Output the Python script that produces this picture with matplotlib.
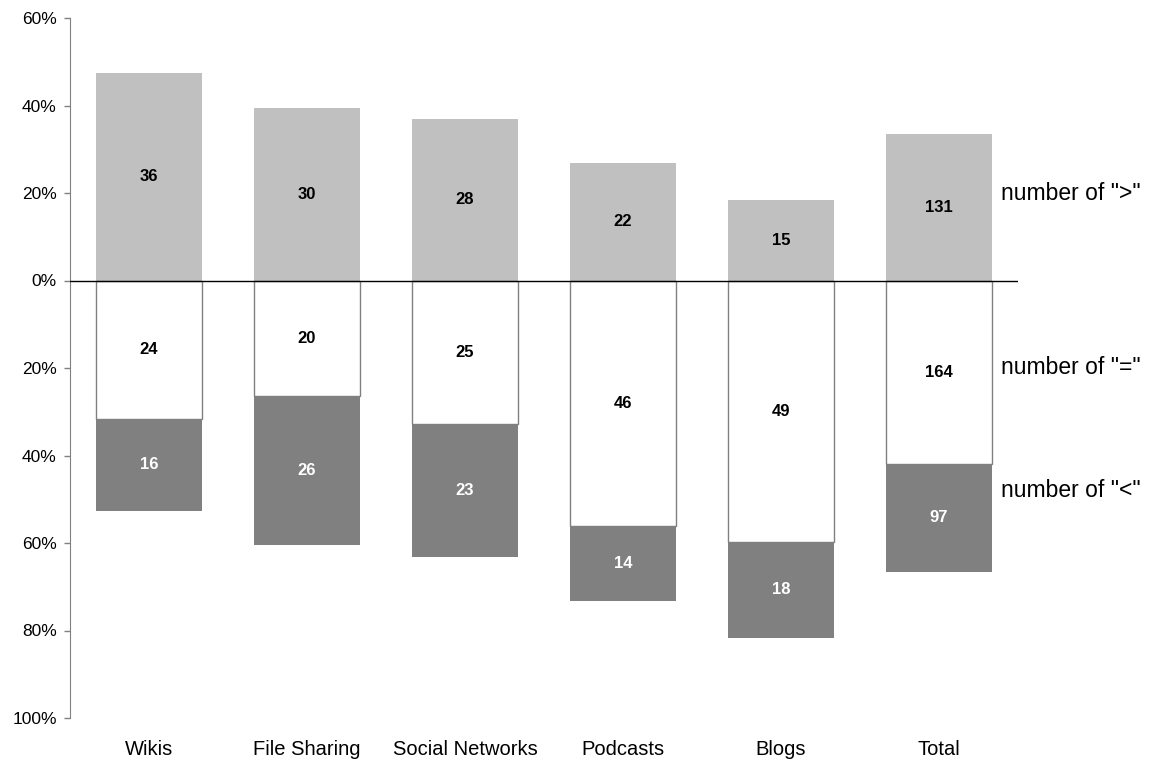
import numpy as np
import matplotlib.pyplot as plt
from matplotlib.ticker import FuncFormatter

plt.rcParams['font.family'] = ['Liberation Sans', 'DejaVu Sans']

categories = ['Wikis', 'File Sharing', 'Social Networks', 'Podcasts', 'Blogs', 'Total']
n_greater = np.array([36, 30, 28, 22, 15, 131])
n_equal = np.array([24, 20, 25, 46, 49, 164])
n_less = np.array([16, 26, 23, 14, 18, 97])

series_labels = ['number of ">"', 'number of "="', 'number of "<"']
label_y = [20, -20, -48]

totals = n_greater + n_equal + n_less
p_greater = n_greater / totals * 100
p_equal = n_equal / totals * 100
p_less = n_less / totals * 100

fig = plt.figure(figsize=(11.49, 7.62), dpi=100)
ax = fig.add_axes([70 / 1149, 1 - 718 / 762, 948 / 1149, 700 / 762])

x = np.arange(len(categories))
w = 0.67

ax.bar(x, p_greater, w, color='#c0c0c0', zorder=2)
ax.bar(x, -p_equal, w, color='white', edgecolor='#808080', linewidth=1, zorder=2)
ax.bar(x, -p_less, w, bottom=-p_equal, color='#808080', zorder=2)
ax.axhline(0, color='black', linewidth=1, zorder=3)

for i in range(len(categories)):
    ax.text(x[i], p_greater[i] / 2, str(n_greater[i]), ha='center', va='center',
            fontsize=12, fontweight='bold', color='black', zorder=4)
    ax.text(x[i], -p_equal[i] / 2, str(n_equal[i]), ha='center', va='center',
            fontsize=12, fontweight='bold', color='black', zorder=4)
    ax.text(x[i], -p_equal[i] - p_less[i] / 2, str(n_less[i]), ha='center', va='center',
            fontsize=12, fontweight='bold', color='white', zorder=4)

for lab, y in zip(series_labels, label_y):
    ax.text(5.39, y, lab, ha='left', va='center', fontsize=16.5, clip_on=False)

ax.set_xlim(-0.5, 5.5)
ax.set_ylim(-100, 60)
ax.set_yticks(np.arange(-100, 61, 20))
ax.yaxis.set_major_formatter(FuncFormatter(lambda v, _: f'{abs(v):.0f}%'))
ax.set_xticks(x)
ax.set_xticklabels(categories, fontsize=14.5)
ax.tick_params(axis='x', length=0, pad=16)
ax.tick_params(axis='y', length=4.5, width=1, color='#808080', labelsize=12.5,
               direction='out', pad=5)

for s in ['top', 'right', 'bottom']:
    ax.spines[s].set_visible(False)
ax.spines['left'].set_color('#808080')

fig.savefig('out.png', dpi=100)
